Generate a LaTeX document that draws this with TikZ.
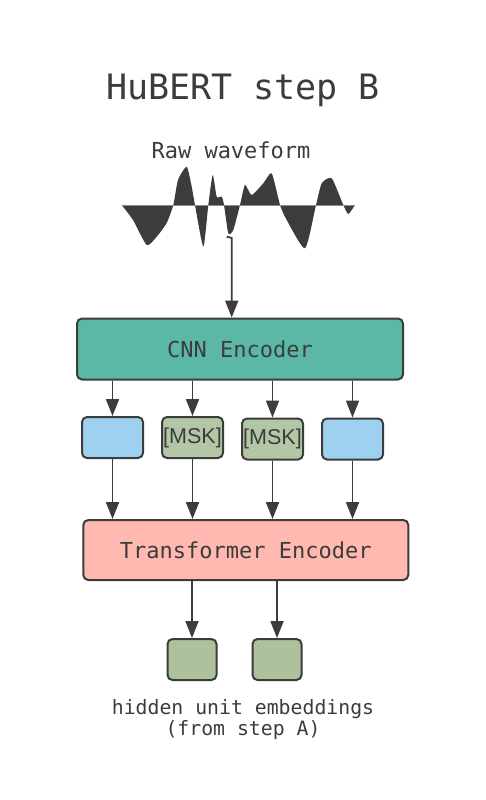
\documentclass[tikz,border=0pt]{standalone}
\usepackage{fontspec}
\setmainfont{DejaVu Sans Mono}
\newfontfamily\mskfont{Liberation Sans}
\usetikzlibrary{arrows.meta}

\definecolor{ink}{HTML}{3C3C3C}
\definecolor{cnnfill}{HTML}{5BB8A6}
\definecolor{trffill}{HTML}{FFB9B0}
\definecolor{featfill}{HTML}{9DD1EF}
\definecolor{mskfill}{HTML}{B3C6A6}
\definecolor{unitfill}{HTML}{ADC29C}

\tikzset{
  block/.style={draw=ink, line width=2pt, rounded corners=5pt, text=ink,
    font=\fontsize{22}{26}\selectfont},
  token/.style={draw=ink, line width=2pt, rounded corners=5pt,
    minimum width=61pt, minimum height=41pt, inner sep=0pt},
  unit/.style={draw=ink, line width=2pt, rounded corners=5pt, fill=unitfill,
    minimum width=49pt, minimum height=41pt},
  arr/.style={draw=ink, line width=1.8pt,
    -{Triangle[width=13pt,length=17pt]}},
}

\begin{document}
\begin{tikzpicture}[x=1pt, y=-1pt]
\useasboundingbox (0,0) rectangle (486,800);

%% Title
\node[text=ink, font=\fontsize{35}{40}\selectfont] (title) at (243,90) {HuBERT step B};
\node[text=ink, font=\fontsize{22}{26}\selectfont] (rawlab) at (231,150) {Raw waveform};

%% Waveform
\fill[ink] plot[smooth, tension=0.35] coordinates {
  (121.7,205) (133,220) (146.7,245) (156.7,236.7) (166.7,223) (173.3,205)
  (178,180) (186.7,166.7) (191.7,186.7) (195,205)
  (203.3,246.7) (208.3,205)
  (212.7,175) (216.7,196.7) (221.7,196.7) (224,205)
  (228.3,233.3) (233.3,230) (240,205)
  (245,185) (251.7,195) (263.3,183.3) (271.7,173.3) (280,205)
  (286.7,220) (305,248.3) (316,205)
  (321.7,183.3) (331.7,178.3) (343.3,205)
  (348.3,214) (355,205)} -- cycle;
\draw[ink!60, line width=1pt] (121.7,205) -- (355,205);

%% CNN encoder
\node[block, fill=cnnfill, minimum width=326pt, minimum height=61pt] (cnn) at (240,349) {CNN Encoder};
\coordinate (wtip) at (226.7,236.7);
\coordinate (wbend) at (231.7,238);
\draw[arr] (wtip) -- (wbend) -- (wbend |- cnn.north);

%% Frame features, two of them masked
\node[token, fill=featfill] (f1) at (112.5,437.5) {};
\node[token, fill=mskfill, font=\mskfont\fontsize{21.5}{24}\selectfont, text=ink] (f2) at (192.5,437.5) {[MSK]};
\node[token, fill=mskfill, font=\mskfont\fontsize{21.5}{24}\selectfont, text=ink] (f3) at (272.5,439) {[MSK]};
\node[token, fill=featfill] (f4) at (352.5,439) {};

%% Transformer encoder
\node[block, fill=trffill, minimum width=325pt, minimum height=60pt] (trf) at (245.8,550) {Transformer Encoder};

\foreach \f in {f1,f2,f3,f4}{
  \draw[arr] (cnn.south -| \f.north) -- (\f.north);
  \draw[arr] (\f.south) -- (trf.north -| \f.south);
}

%% Hidden unit targets
\node[unit] (u1) at (192,659.5) {};
\node[unit] (u2) at (277,659.5) {};
\draw[arr] (trf.south -| u1.north) -- (u1.north);
\draw[arr] (trf.south -| u2.north) -- (u2.north);

\node[text=ink, align=center, font=\fontsize{19.8}{21}\selectfont] (cap) at (243,720)
  {hidden unit embeddings\\(from step A)};

\end{tikzpicture}
\end{document}
